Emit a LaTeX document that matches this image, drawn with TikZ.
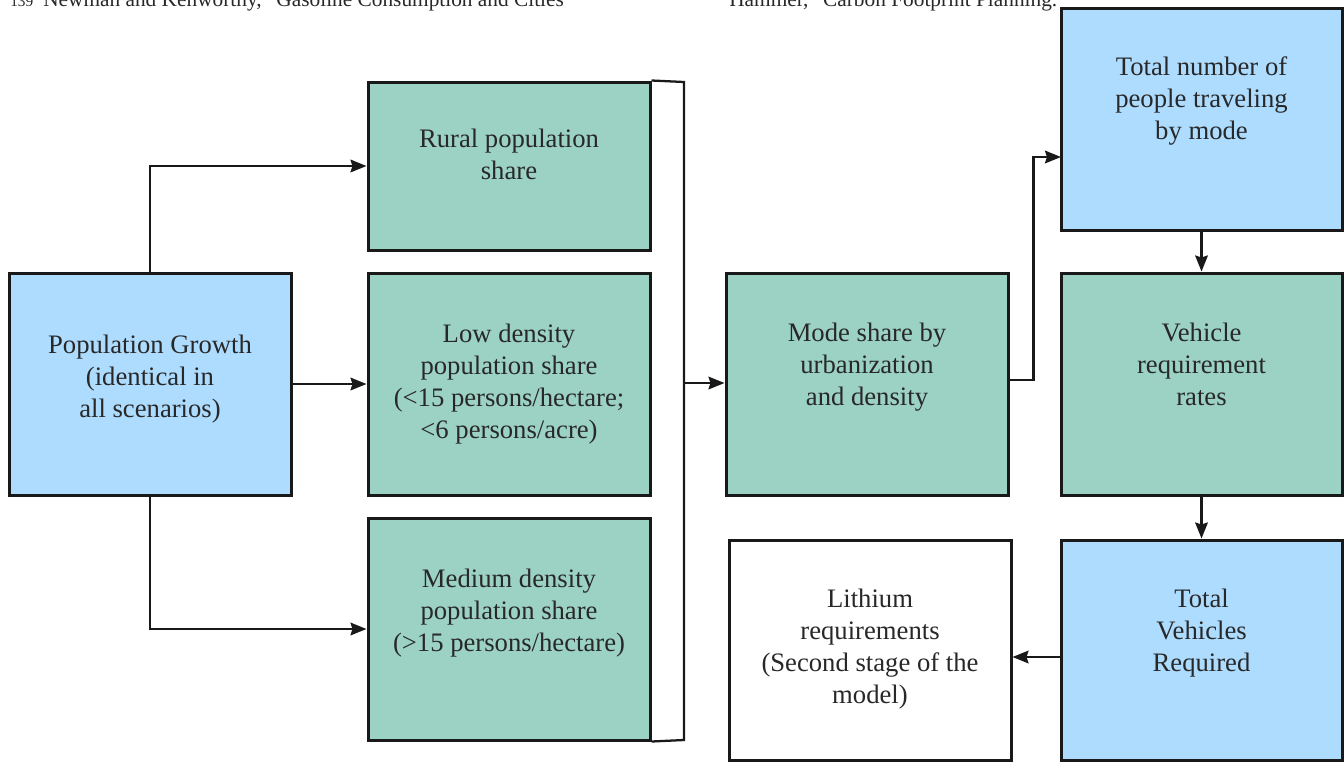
\documentclass[tikz,border=0pt]{standalone}
\usepackage{fontspec}
\setmainfont{Liberation Serif}
\usetikzlibrary{arrows.meta}
\definecolor{boxblue}{RGB}{173,220,255}
\definecolor{boxgreen}{RGB}{155,210,196}
\definecolor{ink}{RGB}{25,25,25}
\definecolor{txt}{RGB}{40,40,40}
\tikzset{
  box/.style={draw=ink, line width=2.25pt, inner sep=0pt, minimum width=211.5pt, minimum height=166.5pt},
  bluebox/.style={box, fill=boxblue},
  greenbox/.style={box, fill=boxgreen},
  whitebox/.style={box, fill=white},
  lbl/.style={align=center, anchor=north, inner sep=0pt, text=txt, font=\fontsize{20}{24}\selectfont},
  conn/.style={draw=ink, line width=1.7pt, -{Stealth[length=12pt,width=9.5pt,inset=1.5pt]}},
  plain/.style={draw=ink, line width=1.7pt},
  hdr/.style={anchor=base west, inner sep=0pt, text=txt, font=\fontsize{16}{18}\selectfont}
}
\begin{document}
\begin{tikzpicture}[x=0.75pt,y=-0.75pt]
\useasboundingbox (0,0) rectangle (1344,761);
% cut-off page header text
\node[hdr] (h1) at (10,6) {{\fontsize{11.5}{13}\selectfont 139}\hspace{7.5pt}Newman and Kenworthy, ``Gasoline Consumption and Cities''};
\node[hdr] (h2) at (729,6) {Hammer, ``Carbon Footprint Planning.''};
% boxes
\node[bluebox] (pop) at (150,384) {};
\node[greenbox, minimum height=126pt] (rural) at (509,166) {};
\node[greenbox] (low) at (509,384) {};
\node[greenbox] (med) at (509,629) {};
\node[greenbox] (mode) at (867,384) {};
\node[bluebox, minimum width=210.75pt] (tn) at (1201.5,119) {};
\node[greenbox, minimum width=210.75pt] (veh) at (1201.5,384) {};
\node[bluebox, minimum width=210.75pt, minimum height=165pt] (tv) at (1201.5,650) {};
\node[whitebox, minimum height=165pt] (lith) at (870,650) {};
% labels
\node[lbl] (popT) at (150,335) {Population Growth\\(identical in\\all scenarios)};
\node[lbl] (ruralT) at (509,129) {Rural population\\share};
\node[lbl] (lowT) at (509,324) {Low density\\population share\\(<15 persons/hectare;\\<6 persons/acre)};
\node[lbl] (medT) at (509,569) {Medium density\\population share\\(>15 persons/hectare)};
\node[lbl] (modeT) at (867,323) {Mode share by\\urbanization\\and density};
\node[lbl] (tnT) at (1201.5,56) {Total number of\\people traveling\\by mode};
\node[lbl] (vehT) at (1201.5,323) {Vehicle\\requirement\\rates};
\node[lbl] (tvT) at (1201.5,589) {Total\\Vehicles\\Required};
\node[lbl] (lithT) at (870,589) {Lithium\\requirements\\(Second stage of the\\model)};
% bracket
\coordinate (bt) at (684,82);
\coordinate (bb) at (684,740);
\coordinate (bm) at (684,383);
\draw[plain] (rural.north east) -- (bt) -- (bb) -- (med.south east);
% connectors
\draw[conn] (pop.north) |- (rural.west);
\draw[conn] (pop.east) -- (low.west);
\draw[conn] (pop.south) |- (med.west);
\draw[conn] (bm) -- (mode.west |- bm);
\coordinate (tnin) at (1061,157);
\draw[conn] ([yshift=3pt]mode.east) -- ++(24,0) |- (tnin);
\draw[conn] (tn.south) -- (veh.north);
\draw[conn] (veh.south) -- (tv.north);
\draw[conn] ([yshift=-5.25pt]tv.west) -- ([yshift=-5.25pt]lith.east);
\end{tikzpicture}
\end{document}
